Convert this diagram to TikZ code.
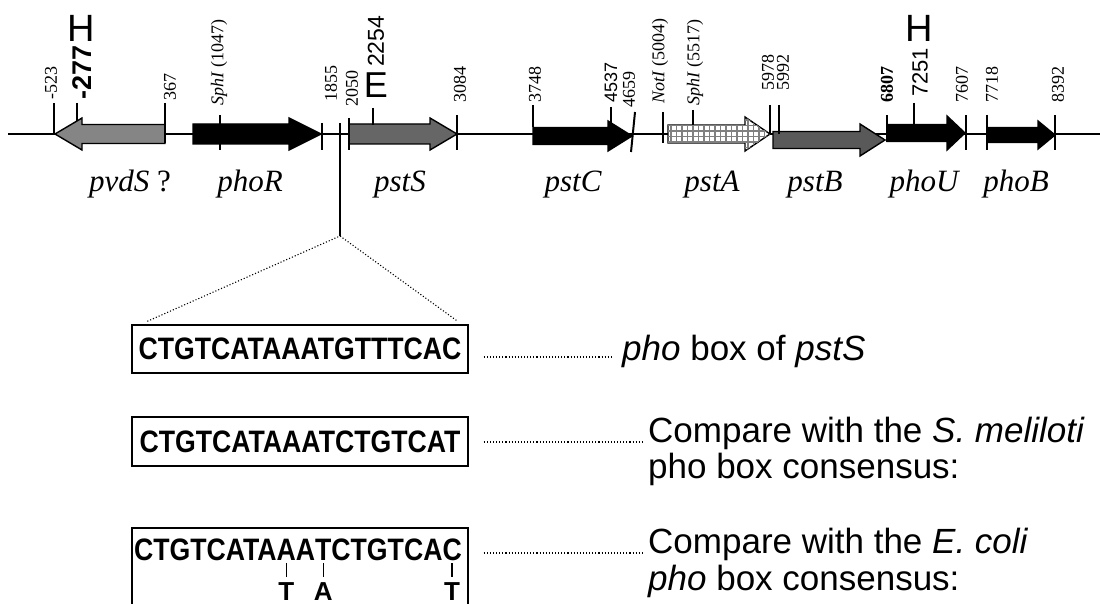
\documentclass[tikz,border=0pt]{standalone}
\usepackage{fontspec}
\usepackage{graphicx}
\setmainfont{Liberation Serif}
\setsansfont{Liberation Sans}
\usetikzlibrary{calc,patterns}

% small white squares in a grey grid, used for pstA
\pgfdeclarepatternformonly{boxgrid}{\pgfqpoint{-1pt}{-1pt}}{\pgfqpoint{6pt}{6pt}}{\pgfqpoint{5.5pt}{5.5pt}}{%
  \pgfsetlinewidth{1.5pt}%
  \pgfpathmoveto{\pgfqpoint{0pt}{0pt}}\pgfpathlineto{\pgfqpoint{5.5pt}{0pt}}%
  \pgfpathmoveto{\pgfqpoint{0pt}{0pt}}\pgfpathlineto{\pgfqpoint{0pt}{5.5pt}}%
  \pgfusepath{stroke}}

\newcommand{\pxsize}[1]{\fontsize{#1}{#1}\selectfont}
\newcommand{\seqtext}[1]{\scalebox{0.86}[1]{#1}}
% gene arrow: #1 style, #2 tail x, #3 head base x, #4 tip x, #5 centre y, #6 half shaft, #7 half head
\newcommand{\genearrow}[7]{%
  \draw[#1] (#2,#5-#6) -- (#3,#5-#6) -- (#3,#5-#7) -- (#4,#5) -- (#3,#5+#7)
    -- (#3,#5+#6) -- (#2,#5+#6) -- cycle;}
% restriction / coordinate tick: #1 x, #2 top y, #3 bottom y
\newcommand{\sitetick}[3]{\draw[sitetick] (#1,#2) -- (#1,#3);}

\begin{document}
\begin{tikzpicture}[x=1pt,y=-1pt,
  backbone/.style={line width=1.8pt},
  sitetick/.style={line width=2pt},
  genebody/.style={draw=black, line width=1.4pt, line join=miter},
  num/.style={rotate=90, anchor=west, inner sep=0pt, font=\pxsize{18}},
  bignum/.style={rotate=90, anchor=west, inner sep=0pt, font=\pxsize{23}\sffamily},
  enzyme/.style={inner sep=0pt, font=\pxsize{38}\sffamily},
  genelabel/.style={anchor=base, inner sep=0pt, font=\pxsize{31}\itshape},
  seqbox/.style={draw, line width=1.4pt, minimum width=336pt, inner sep=0pt,
    font=\pxsize{31}\sffamily\bfseries},
  seq/.style={inner sep=0pt, outer sep=0pt, anchor=base west, font=\pxsize{31}\sffamily\bfseries},
  note/.style={inner sep=0pt, anchor=base west, font=\pxsize{35}\sffamily},
  dotline/.style={dotted, line width=1.1pt},
]
\useasboundingbox (0,0) rectangle (1100,604);
\clip (0,0) rectangle (1100,604);

% ---------- backbone ----------
\coordinate (left end) at (8,134);
\coordinate (right end) at (1100,134);
\draw[backbone] (left end) -- (right end);

% ---------- genes ----------
\genearrow{genebody, fill=black!48}{165}{82}{55}{134}{9.5}{16}
\genearrow{genebody, fill=black}{193}{289}{321}{134}{10}{16}
\genearrow{genebody, fill=black!60}{349}{430}{457}{134}{10}{16}
\genearrow{genebody, fill=black}{533}{608}{632}{136}{8.5}{15}
\genearrow{genebody, fill=white, postaction={pattern=boxgrid, pattern color=black!50}}{668}{745}{770}{134}{9}{17}
\genearrow{genebody, fill=black!65}{773}{860}{885}{140}{8.5}{16}
\genearrow{genebody, fill=black}{887}{947}{965}{133}{8.5}{17}
\genearrow{genebody, fill=black}{987}{1038}{1055}{135}{7.5}{14}

% ---------- ticks ----------
\sitetick{54}{103}{134}
\sitetick{77}{103}{121}
\sitetick{165}{103}{143}
\sitetick{220}{115}{150}
\sitetick{322}{123}{150}
\sitetick{349}{118}{150}
\sitetick{373}{108}{125}
\sitetick{457}{115}{150}
\sitetick{533}{105}{127}
\sitetick{611}{107}{128}
\draw[sitetick] (635,112) -- (631,152);
\sitetick{663}{112}{143}
\sitetick{693}{110}{125}
\sitetick{770}{105}{134}
\sitetick{779}{105}{134}
\sitetick{887}{115}{142}
\sitetick{914}{103}{125}
\sitetick{966}{115}{150}
\sitetick{987}{115}{150}
\sitetick{1055}{115}{150}

% ---------- coordinate labels ----------
\node[num] (n523) at (51,100) {-523};
\node[bignum, font=\pxsize{27}\sffamily\bfseries] (n277) at (82,100) {-277};
\node[enzyme] (h1) at (81,28) {H};
\node[num] (n367) at (170,101) {367};
\node[num] (n1047) at (219,106) {\textit{SphI} (1047)};
\node[num] (n1855) at (331,102) {1855};
\node[num] (n2050) at (352,107) {2050};
\node[enzyme, font=\pxsize{36}\sffamily] (e1) at (376,85) {E};
\node[bignum] (n2254) at (376,67) {2254};
\node[num] (n3084) at (460,103) {3084};
\node[num] (n3748) at (535,103) {3748};
\node[num, font=\pxsize{18}\sffamily] (n4537) at (611,103) {4537};
\node[num] (n4659) at (629,108) {4659};
\node[num] (n5004) at (660,104) {\textit{NotI} (5004)};
\node[num] (n5517) at (695,106) {\textit{SphI} (5517)};
\node[num] (n5978) at (768,91) {5978};
\node[num] (n5992) at (783,91) {5992};
\node[num, font=\pxsize{18}\bfseries] (n6807) at (887,103) {6807};
\node[bignum, font=\pxsize{22}\sffamily] (n7251) at (920,97) {7251};
\node[enzyme] (h2) at (919,28) {H};
\node[num] (n7607) at (962,103) {7607};
\node[num] (n7718) at (992,103) {7718};
\node[num] (n8392) at (1058,103) {8392};

% ---------- gene names ----------
\node[genelabel] (pvdS) at (130,192) {pvdS \upshape ?};
\node[genelabel] (phoR) at (250,192) {phoR};
\node[genelabel] (pstS) at (400,192) {pstS};
\node[genelabel] (pstC) at (573,192) {pstC};
\node[genelabel] (pstA) at (712,192) {pstA};
\node[genelabel] (pstB) at (815,192) {pstB};
\node[genelabel] (phoU) at (924,192) {phoU};
\node[genelabel] (phoB) at (1016,192) {phoB};

% ---------- pho box blow-up ----------
\node[seqbox, minimum height=48pt] (box1) at (300,349) {\seqtext{CTGTCATAAATGTTTCAC}};
\node[seqbox, minimum height=49pt] (box2) at (300,441.5) {\seqtext{CTGTCATAAATCTGTCAT}};
\node[seqbox, minimum height=84pt] (box3) at (300,570) {};

\coordinate (site) at (340,123);
\coordinate (fork) at (340,236);
\draw[line width=1.2pt] (site) -- (fork);
\draw[dotline] ($(box1.north west)+(16,-3)$) -- (fork) -- ($(box1.north east)+(-11,-3)$);

% third sequence, split so that the differing bases can be marked
\node[seq] (s3a) at (134,560) {\seqtext{CTGTCATA}};
\node[seq] (s3b) at (s3a.base east) {\seqtext{A}};
\node[seq] (s3c) at (s3b.base east) {\seqtext{A}};
\node[seq] (s3d) at (s3c.base east) {\seqtext{T}};
\node[seq] (s3e) at (s3d.base east) {\seqtext{CTGTCA}};
\node[seq] (s3f) at (s3e.base east) {\seqtext{C}};
\foreach \b/\m/\l in {s3b/mut1/T, s3d/mut2/A, s3f/mut3/T} {
  \draw[line width=1.4pt] ($(\b.base)+(0,3)$) -- ($(\b.base)+(0,17)$);
  \node[anchor=base, inner sep=0pt, font=\pxsize{26}\sffamily\bfseries] (\m)
    at ($(\b.base)+(0,40)$) {\l};
}

% ---------- notes ----------
\node[note] (t1) at (622,360) {\textit{pho} box of \textit{pstS}};
\node[note] (t2a) at (648,442) {Compare with the \textit{S. meliloti}};
\node[note] (t2b) at (648,478) {pho box consensus:};
\node[note] (t3a) at (648,553) {Compare with the \textit{E. coli}};
\node[note] (t3b) at (648,590) {\textit{pho} box consensus:};

\draw[dotline] ($(box1.east |- t1.base west)+(15,-3)$) -- ($(t1.base west)+(-9,-3)$);
\draw[dotline] ($(box2.east |- t2a.base west)+(15,0)$) -- ($(t2a.base west)+(-6,0)$);
\draw[dotline] ($(box3.east |- t3a.base west)+(15,0)$) -- ($(t3a.base west)+(-6,0)$);
\end{tikzpicture}
\end{document}
